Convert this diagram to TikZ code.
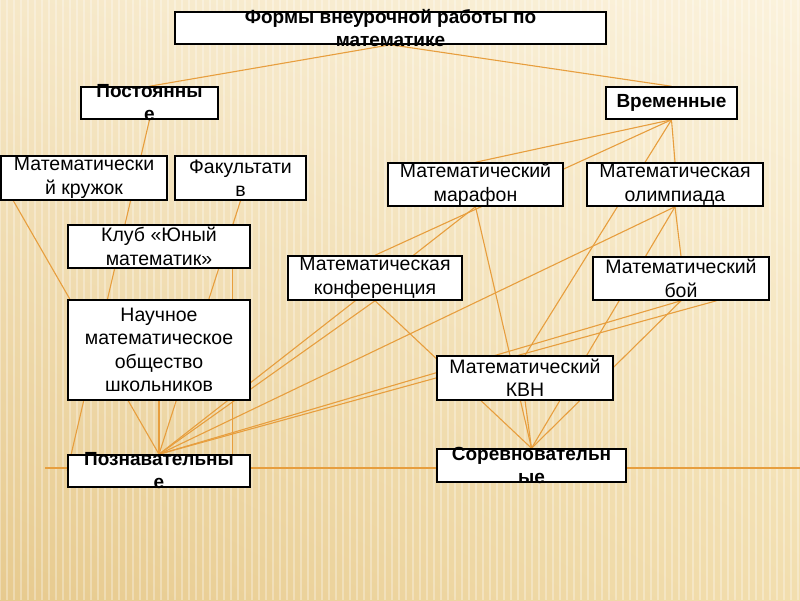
\documentclass[tikz,border=0pt]{standalone}
\usepackage{fontspec}
\setmainfont{Liberation Sans}
\usetikzlibrary{calc,shadings}
\definecolor{linkor}{RGB}{231,158,62}
\definecolor{bgul}{RGB}{246,232,200}
\definecolor{bgur}{RGB}{251,242,220}
\definecolor{bgll}{RGB}{231,202,142}
\definecolor{bglr}{RGB}{242,222,174}
\pgfdeclarelayer{bgl}
\pgfdeclarelayer{links}
\pgfsetlayers{bgl,links,main}

\begin{document}
\begin{tikzpicture}[x=1pt,y=-1pt,
	frm/.style={draw, line width=1.5pt, fill=white, inner sep=0pt, align=center,
		font=\fontsize{19.5}{23.5}\selectfont},
	hdtxt/.style={inner sep=0pt, align=center, font=\bfseries\fontsize{19}{23}\selectfont},
	link/.style={draw=linkor, line width=1.1pt}]
			
			\useasboundingbox (0,0) rectangle (800,600);
			
			% background with stripes
			\begin{pgfonlayer}{bgl}
			\shade[upper left=bgul, upper right=bgur, lower left=bgll, lower right=bglr]
			(0,0) rectangle (800,600);
			\foreach \sx in {0,7,...,800}
			\draw[white, opacity=.3, line width=2.5pt] (\sx,0) -- (\sx,600);
			\end{pgfonlayer}
			
			% top level
			\node[frm, minimum width=431, minimum height=32] (forms) at (390.5,28) {};
			\node[hdtxt] (formstxt) at (forms.center) {Формы внеурочной работы по\\математике};
			
			% two kinds by time
			\node[frm, minimum width=137, minimum height=32] (post) at (149.5,103) {};
			\node[hdtxt] (posttxt) at (post.center) {Постоянны\\е};
			\node[frm, minimum width=131, minimum height=32, font=\bfseries\fontsize{19}{23}\selectfont]
			(vrem) at (671.5,103) {Временные};
			
			% permanent forms
			\node[frm, minimum width=166, minimum height=44] (kruzh) at (84,178) {Математически\\й кружок};
			\node[frm, minimum width=131, minimum height=44] (fakult) at (240.5,178) {Факультати\\в};
			\node[frm, minimum width=182, minimum height=43] (klub) at (159,246.5) {Клуб «Юный\\математик»};
			\node[frm, minimum width=182, minimum height=100] (nauch) at (159,350)
			{Научное\\математическое\\общество\\школьников};
			
			% temporary forms
			\node[frm, minimum width=175, minimum height=43] (maraf) at (475.5,184.5) {Математический\\марафон};
			\node[frm, minimum width=176, minimum height=43] (olimp) at (675,184.5) {Математическая\\олимпиада};
			\node[frm, minimum width=174, minimum height=44] (konf) at (375,278) {Математическая\\конференция};
			\node[frm, minimum width=176, minimum height=43] (boi) at (681,278.5) {Математический\\бой};
			\node[frm, minimum width=176, minimum height=44] (kvn) at (525,378) {Математический\\КВН};
			
			% two kinds by aim
			\node[frm, minimum width=182, minimum height=32] (pozn) at (159,471) {};
			\node[hdtxt] (pozntxt) at (pozn.center) {Познавательны\\е};
			\node[frm, minimum width=189, minimum height=33] (sorev) at (531.5,465.5) {};
			\node[hdtxt] (sorevtxt) at (sorev.center) {Соревновательн\\ые};
			
			\coordinate (hl) at (45,468);
			\coordinate (hr) at (800,468);
			
			% connectors behind the boxes
			\begin{pgfonlayer}{links}
			\draw[link] (forms.south) -- (post.north);
			\draw[link] (forms.south) -- (vrem.north);
			\draw[link] (post.south) -- (pozn.west);
			\draw[link] (kruzh.west) -- (pozn.north);
			\draw[link] (fakult.south) -- (pozn.north);
			\draw[link] ($(klub.south)!.8!(klub.south east)$) -- ($(pozn.north)!.8!(pozn.north east)$);
			\draw[link] (nauch.south) -- (pozn.north);
			\draw[link] (maraf.south) -- (pozn.north);
			\draw[link] (konf.south) -- (pozn.north);
			\draw[link] (olimp.south) -- (pozn.north);
			\draw[link] (boi.south) -- (pozn.north);
			\draw[link] (pozn.north) -- ($(boi.south)!.4!(boi.south east)$);
			
			\draw[link] (vrem.south) -- (maraf.north);
			\draw[link] (vrem.south) -- (olimp.north);
			\draw[link] (vrem.south) -- (konf.north);
			\draw[link] (vrem.south) -- (kvn.north);
			\draw[link] (olimp.south) -- (boi.north);
			
			\draw[link] (maraf.south) -- (sorev.north);
			\draw[link] (konf.south) -- (sorev.north);
			\draw[link] (olimp.south) -- (sorev.north);
			\draw[link] (boi.south) -- (sorev.north);
			\draw[link] (kvn.south) -- (sorev.north);
			
			\draw[link] (hl) -- (hr);
			\end{pgfonlayer}
			
		\end{tikzpicture}
\end{document}
